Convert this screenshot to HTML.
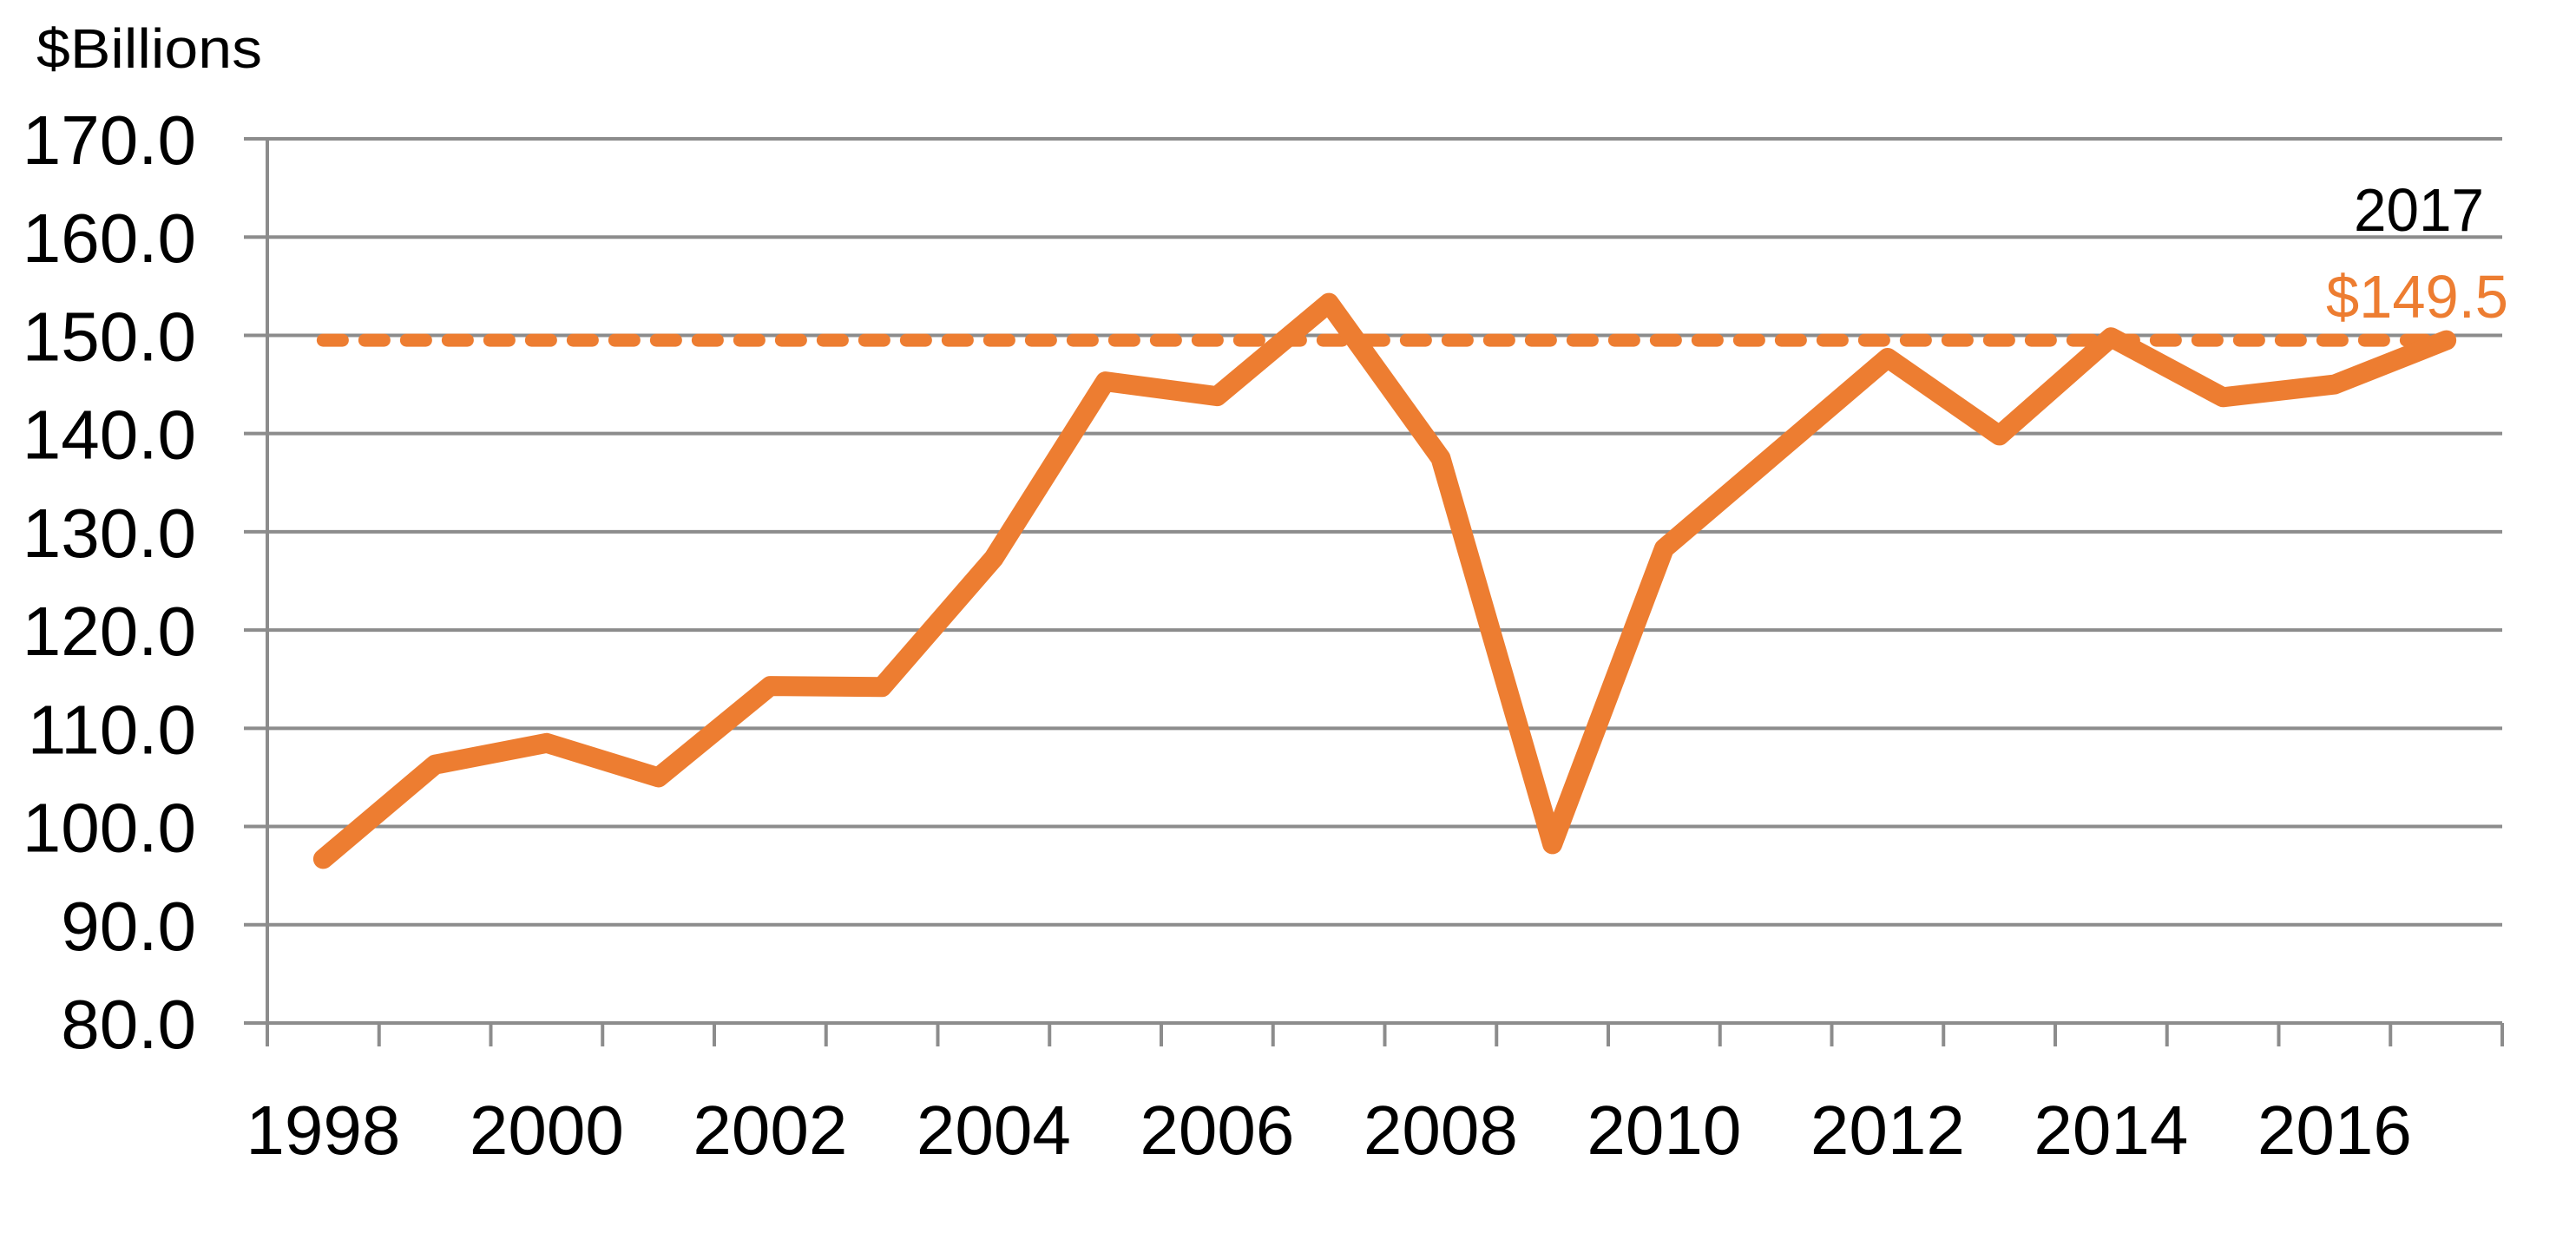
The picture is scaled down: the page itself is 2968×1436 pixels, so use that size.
<!DOCTYPE html>
<html><head><meta charset="utf-8"><style>
html,body{margin:0;padding:0;background:#fff;}
svg{display:block;font-family:"Liberation Sans",sans-serif;}
</style></head><body>
<svg id="chart" width="2968" height="1436" viewBox="0 0 2968 1436" xmlns="http://www.w3.org/2000/svg">
<text x="42" y="78" font-size="64" fill="#000" textLength="260" lengthAdjust="spacingAndGlyphs">$Billions</text>
<g id="grid"></g><g id="ticks"></g><g id="series"></g>
<text x="2862" y="266" font-size="70" text-anchor="end" fill="#000" textLength="150" lengthAdjust="spacingAndGlyphs">2017</text>
<text x="2890" y="366" font-size="70" text-anchor="end" fill="#ED7D31" textLength="210" lengthAdjust="spacingAndGlyphs">$149.5</text>
</svg>
<script>
const years = [1998,1999,2000,2001,2002,2003,2004,2005,2006,2007,2008,2009,2010,2011,2012,2013,2014,2015,2016,2017];
const values = [96.7,106.3,108.5,105.0,114.3,114.2,127.3,145.3,143.8,153.3,137.5,98.2,128.3,138.0,147.7,139.8,149.8,143.7,145.0,149.5];
const yTicks = [80,90,100,110,120,130,140,150,160,170];
const refValue = [149.5];
const NS='http://www.w3.org/2000/svg';
const X0=308,X1=2883,Y0=1179,Y1=160,YMIN=80,YMAX=170;
const step=(X1-X0)/years.length;
function xs(i){return X0+step*(i+0.5);}
function ys(v){return Y0-(v-YMIN)/(YMAX-YMIN)*(Y0-Y1);}
function mk(t,a,p){const e=document.createElementNS(NS,t);for(const k in a)e.setAttribute(k,a[k]);p.appendChild(e);return e;}
const grid=document.getElementById('grid'),ticks=document.getElementById('ticks'),series=document.getElementById('series');
yTicks.forEach(v=>{
  const l=mk('line',{x1:281,x2:X1,y1:ys(v),y2:ys(v),stroke:'#8c8c8c','stroke-width':4},grid);
  
  
  const t=mk('text',{x:226,y:ys(v)+29,'font-size':80,'text-anchor':'end',fill:'#000'},ticks);
  t.textContent=v.toFixed(1);
  
  
});
const ax=mk('line',{x1:X0,x2:X0,y1:Y1,y2:Y0+27,stroke:'#8c8c8c','stroke-width':4},grid);


for(let i=0;i<=years.length;i++){
  const tk=mk('line',{x1:X0+step*i,x2:X0+step*i,y1:Y0,y2:Y0+27,stroke:'#8c8c8c','stroke-width':4},grid);
  
  
}
years.forEach((y,i)=>{
  if(i%2) return;
  const t=mk('text',{x:xs(i),y:1330,'font-size':80,'text-anchor':'middle',fill:'#000'},ticks);
  t.textContent=y;
  
  
});
const ref=mk('line',{x1:xs(0),x2:xs(years.length-1),y1:ys(refValue[0]),y2:ys(refValue[0]),stroke:'#ED7D31','stroke-width':15,'stroke-dasharray':'22 26','stroke-linecap':'round'},series);


const pl=mk('polyline',{points:values.map((v,i)=>xs(i)+','+ys(v)).join(' '),fill:'none',stroke:'#ED7D31','stroke-width':23,'stroke-linejoin':'round','stroke-linecap':'round'},series);


</script>
</body></html>
